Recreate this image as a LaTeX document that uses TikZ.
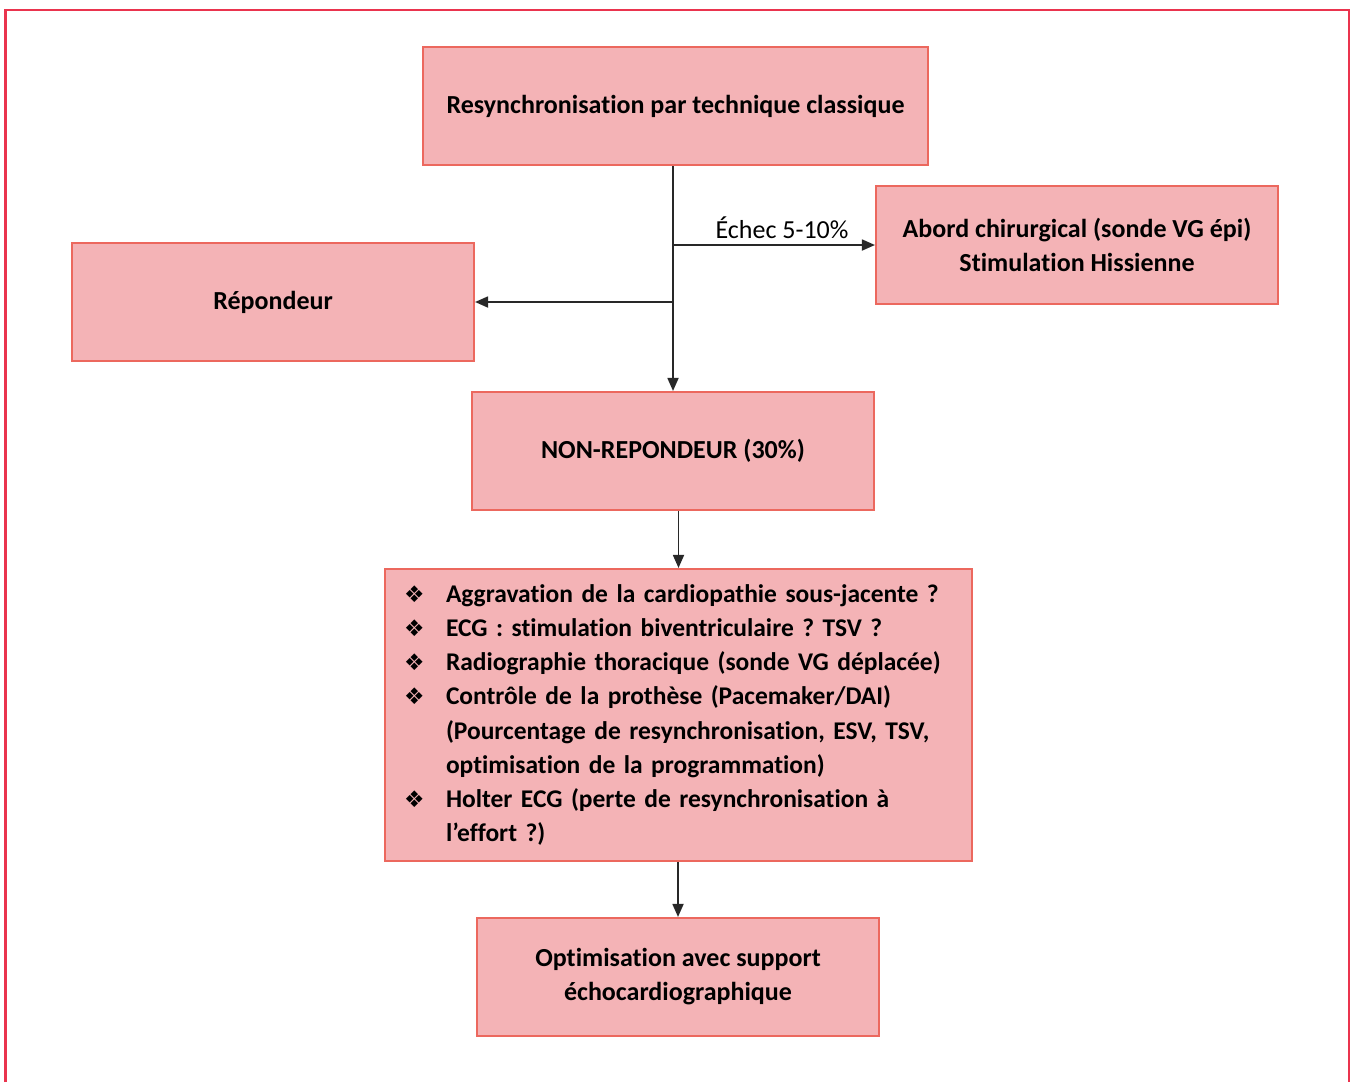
\documentclass[tikz,border=0pt]{standalone}
\usepackage{fontspec}
\setmainfont{Carlito}[Ligatures=CommonOff]
\newfontfamily\dejavu{DejaVu Sans}
\usetikzlibrary{arrows.meta,positioning,calc}
\definecolor{rosefond}{RGB}{244,179,182}
\definecolor{rosebord}{RGB}{236,104,94}
\definecolor{cadre}{RGB}{234,52,78}
\definecolor{fleche}{RGB}{40,40,40}
\newcommand\puce{\makebox[0.84cm][l]{\dejavu\mdseries\fontsize{13}{19.3}\selectfont ❖}}
\newcommand\retrait{\hspace*{0.84cm}}
\frenchspacing

\begin{document}
\begin{tikzpicture}[
  font=\fontsize{14.8}{19.3}\selectfont\bfseries,
  arr/.style={-{Triangle[length=0.26cm,width=0.22cm]}, line width=1pt, draw=fleche},
  bloc/.style={draw=rosebord, fill=rosefond, line width=1.2pt, align=center, minimum width=8.04cm, minimum height=2.36cm},
]
\useasboundingbox (0,0) rectangle (27.08,-21.64);
\draw[cadre, line width=1.2pt] (0.11,-21.64) |- (26.98,-0.2) -- (26.98,-21.64);
\node[bloc, minimum width=10.1cm] (classique) at (13.51,-2.12) {Resynchronisation par technique classique};
\node[bloc] (abord) at (21.54,-4.9) {Abord chirurgical (sonde VG épi)\\Stimulation Hissienne};
\node[bloc] (repondeur) at (5.46,-6.04) {Répondeur};
\node[bloc] (nonrep) at (13.46,-9.02) {NON-REPONDEUR (30\%)};
\node[bloc, minimum width=11.74cm, minimum height=5.84cm, text width=10.98cm, inner xsep=0.38cm, align=left, font=\fontsize{14.5}{19.5}\selectfont\bfseries] (bilan) at (13.57,-14.3) {
  \puce Aggravation de la cardiopathie sous-jacente ?\\
  \puce ECG : stimulation biventriculaire ? TSV ?\\
  \puce Radiographie thoracique (sonde VG déplacée)\\
  \puce Contrôle de la prothèse (Pacemaker/DAI)\\
  \retrait (Pourcentage de resynchronisation, ESV, TSV,\\
  \retrait optimisation de la programmation)\\
  \puce Holter ECG (perte de resynchronisation à\\
  \retrait l’effort ?)
};
\node[bloc] (optim) at (13.56,-19.54) {Optimisation avec support\\échocardiographique};
\draw[arr] (classique.south -| nonrep.north) -- (nonrep.north);
\draw[arr] (abord.west -| nonrep.north) -- node[above, pos=0.54, font=\fontsize{14.8}{19.3}\selectfont\mdseries] {Échec 5-10\%} (abord.west);
\draw[arr] (repondeur.east -| nonrep.north) -- (repondeur.east);
\draw[arr] (bilan.north |- nonrep.south) -- (bilan.north);
\draw[arr] (optim.north |- bilan.south) -- (optim.north);
\end{tikzpicture}
\end{document}
